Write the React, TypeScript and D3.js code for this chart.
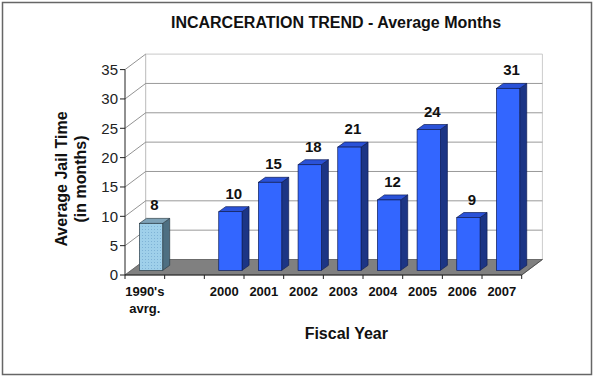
import React from "react";
import * as d3 from "d3";

const categories: string[][] = [["1990's", "avrg."], [""], ["2000"], ["2001"], ["2002"], ["2003"], ["2004"], ["2005"], ["2006"], ["2007"]];
const values: (number | null)[] = [8, null, 10, 15, 18, 21, 12, 24, 9, 31];
const highlight: boolean[] = [true, false, false, false, false, false, false, false, false, false];
const yTicks: number[] = [0, 5, 10, 15, 20, 25, 30, 35];
const title = "INCARCERATION TREND - Average Months";
const yTitle = ["Average Jail Time", "(in months)"];
const xTitle = "Fiscal Year";

const W = 595, H = 378;
const FONT = "Arial, 'Liberation Sans', sans-serif";

export default function App() {
  const x = d3.scaleBand<number>().domain(d3.range(categories.length)).range([125, 521.7]).padding(0);
  const y = d3.scaleLinear().domain([0, 35]).range([275, 69.6]);
  const DX = 20.7, DY = -15.5; // full depth offset
  const off = (f: number) => [f * DX, f * DY];
  const [fx, fy] = off(0.3);
  const bdx = 7, bdy = -5;
  const barW = 23.3;
  const step = x.step();
  const [bx0, by0] = off(1);
  const xr0 = x.range()[0], xr1 = x.range()[1];

  return (
    <svg width={W} height={H} style={{ position: "absolute", left: 0, top: 0, background: "#fff" }} fontFamily={FONT}>
      <defs>
        <pattern id="dots" width="3" height="3" patternUnits="userSpaceOnUse">
          <rect width="3" height="3" fill="#9fd0ea" />
          <rect x="1" y="1" width="1" height="1" fill="#7fb3d6" />
        </pattern>
      </defs>
      <rect x={2.5} y={2.5} width={589} height={372} fill="#fff" stroke="#666" strokeWidth={1.5} />
      <text x={336} y={28.3} textAnchor="middle" fontSize={16} fontWeight="bold" fill="#111">{title}</text>

      {/* back wall */}
      <line x1={xr0 + bx0} x2={xr0 + bx0} y1={y(0) + by0} y2={y(35) + by0} stroke="#bbb" />
      <line x1={xr1 + bx0} x2={xr1 + bx0} y1={y(0) + by0} y2={y(35) + by0} stroke="#ccc" />
      {yTicks.map((t) => (
        <g key={"g" + t}>
          <line x1={xr0 + bx0} x2={xr1 + bx0} y1={y(t) + by0} y2={y(t) + by0} stroke={t === 35 ? "#c8c8c8" : "#999"} strokeWidth={1} />
          <line x1={xr0} x2={xr0 + bx0} y1={y(t)} y2={y(t) + by0} stroke="#777" strokeWidth={0.8} />
        </g>
      ))}

      {/* floor */}
      <polygon
        points={[[xr0, y(0)], [xr1, y(0)], [xr1 + bx0, y(0) + by0], [xr0 + bx0, y(0) + by0]].map((p) => p.join(",")).join(" ")}
        fill="#808080" stroke="#555" strokeWidth={0.6}
      />

      {/* bars */}
      {values.map((v, i) => {
        if (v == null) return null;
        const x0 = (x(i) as number) + (step - barW) / 2 + fx;
        const x1 = x0 + barW;
        const yb = y(0) + fy;
        const yt = y(v) + fy;
        const hl = highlight[i];
        const front = hl ? "url(#dots)" : "#3366ff";
        const side = hl ? "#4e6f82" : "#1c3585";
        const top = hl ? "#7fa3b8" : "#2a52d8";
        const stroke = hl ? "#2d3e48" : "#0f1d55";
        return (
          <g key={"b" + i}>
            <polygon points={`${x1},${yb} ${x1 + bdx},${yb + bdy} ${x1 + bdx},${yt + bdy} ${x1},${yt}`} fill={side} stroke={stroke} strokeWidth={0.7} />
            <polygon points={`${x0},${yt} ${x1},${yt} ${x1 + bdx},${yt + bdy} ${x0 + bdx},${yt + bdy}`} fill={top} stroke={stroke} strokeWidth={0.7} />
            <rect x={x0} y={yt} width={barW} height={yb - yt} fill={front} stroke={stroke} strokeWidth={0.7} />
            <text x={(x0 + x1 + bdx) / 2} y={yt - 13} textAnchor="middle" fontSize={15} fontWeight="bold" fill="#111">{v}</text>
          </g>
        );
      })}

      {/* axes */}
      <line x1={xr0} x2={xr0} y1={y(0)} y2={y(35)} stroke="#222" strokeWidth={1} />
      <line x1={xr0} x2={xr1} y1={y(0)} y2={y(0)} stroke="#222" strokeWidth={1} />
      <line x1={xr1} x2={xr1 + bx0} y1={y(0)} y2={y(0) + by0} stroke="#444" strokeWidth={0.8} />
      {yTicks.map((t) => (
        <g key={"t" + t}>
          <line x1={xr0 - 5} x2={xr0} y1={y(t)} y2={y(t)} stroke="#222" />
          <text x={118} y={y(t)} dy="0.36em" textAnchor="end" fontSize={15} fill="#222">{t}</text>
        </g>
      ))}
      {d3.range(categories.length + 1).map((i) => {
        const xx = xr0 + i * step;
        return <line key={"xt" + i} x1={xx} x2={xx} y1={y(0)} y2={y(0) + 4} stroke="#222" />;
      })}
      {categories.map((c, i) => (
        <text key={"c" + i} x={(x(i) as number) + step / 2} y={295.7} textAnchor="middle" fontSize={13} fontWeight="bold" fill="#111">
          {c.map((l, j) => (
            <tspan key={j} x={(x(i) as number) + step / 2} dy={j === 0 ? 0 : 17}>{l}</tspan>
          ))}
        </text>
      ))}

      <text transform="translate(67,179) rotate(-90)" textAnchor="middle" fontSize={16} fontWeight="bold" fill="#111">
        <tspan x={0} y={0}>{yTitle[0]}</tspan>
        <tspan x={0} y={18.5}>{yTitle[1]}</tspan>
      </text>
      <text x={346.3} y={339.3} textAnchor="middle" fontSize={16} fontWeight="bold" fill="#111">{xTitle}</text>
    </svg>
  );
}
